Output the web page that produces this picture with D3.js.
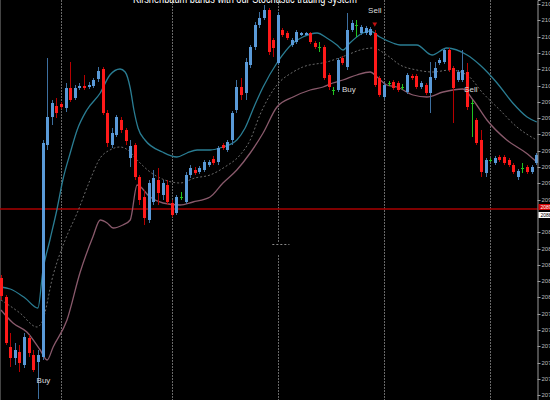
<html>
<!-- Kirshenbaum bands, H1 candles, MT4 style dark chart -->
<script src="https://d3js.org/d3.v7.min.js"></script>

<style>
  body {margin: 0; background: #000;}
  svg {display: block; background: #000;}
</style>

<body>
<svg width=550 height=400></svg>

<script>
// ---- bar data (oldest first), one value per bar ----
const opens = [
  2082.2, 2080.3, 2075.3, 2074.2, 2074.8, 2073.5, 2076.2, 2074.5, 2073.8, 2074.3,
  2095.5, 2098.3, 2099.4, 2099.6, 2099.2, 2101.2, 2100.2, 2101.2, 2101.4, 2101.3,
  2101.4, 2102.1, 2103.1, 2098.7, 2095.5, 2096.5, 2098.0, 2097.0, 2094.2, 2095.5,
  2092.3, 2090.3, 2088.0, 2089.8, 2092.0, 2090.5, 2091.5, 2089.7, 2088.7, 2090.3,
  2089.8, 2092.5, 2093.0, 2092.8, 2093.0, 2093.5, 2094.1, 2093.8, 2095.5, 2095.0,
  2096.0, 2099.0, 2101.3, 2100.7, 2103.5, 2105.3, 2107.5, 2108.2, 2109.0, 2106.0,
  2103.7, 2107.0, 2106.7, 2105.5, 2105.8, 2106.5, 2106.5, 2106.7, 2105.7, 2105.3,
  2105.3, 2102.5, 2101.0, 2101.0, 2104.2, 2103.3, 2107.0, 2107.5, 2106.7, 2106.7,
  2106.5, 2106.7, 2102.2, 2100.3, 2101.7, 2101.8, 2101.7, 2101.3, 2100.8, 2102.4,
  2102.4, 2101.3, 2101.5, 2100.7, 2102.2, 2103.7, 2103.8, 2105.0, 2103.2, 2102.0,
  2102.0, 2102.8, 2099.7, 2098.0, 2096.0, 2092.7, 2094.0, 2093.7, 2094.3, 2094.3,
  2094.0, 2093.5, 2092.3, 2093.2, 2093.3, 2092.8, 2093.7
];
const highs = [
  2082.5, 2080.5, 2076.7, 2075.7, 2075.5, 2076.7, 2076.5, 2075.0, 2075.0, 2096.0,
  2104.2, 2100.0, 2100.2, 2099.8, 2101.7, 2103.8, 2101.5, 2101.7, 2102.5, 2101.8,
  2102.2, 2103.3, 2103.3, 2099.0, 2097.2, 2098.5, 2098.3, 2097.2, 2096.0, 2095.7,
  2092.5, 2091.0, 2092.0, 2093.0, 2093.2, 2092.0, 2092.0, 2090.0, 2090.5, 2090.8,
  2092.8, 2093.5, 2093.3, 2093.4, 2094.0, 2094.0, 2094.4, 2095.4, 2095.7, 2096.0,
  2098.9, 2102.0, 2102.2, 2104.2, 2105.5, 2107.8, 2108.8, 2109.5, 2109.2, 2106.2,
  2108.8, 2107.2, 2106.9, 2106.2, 2107.0, 2106.8, 2106.8, 2106.8, 2105.9, 2105.8,
  2105.5, 2102.7, 2101.3, 2104.2, 2104.4, 2108.7, 2108.0, 2108.0, 2107.5, 2107.4,
  2107.3, 2107.0, 2102.4, 2101.7, 2101.9, 2102.0, 2101.9, 2101.6, 2102.7, 2102.6,
  2102.6, 2101.9, 2101.7, 2103.8, 2103.8, 2104.2, 2105.2, 2105.2, 2103.4, 2103.0,
  2105.0, 2103.7, 2100.0, 2098.2, 2097.0, 2094.2, 2094.2, 2094.4, 2094.5, 2094.5,
  2094.2, 2093.7, 2093.1, 2093.7, 2093.5, 2093.5, 2094.7
];
const lows = [
  2080.0, 2075.5, 2073.3, 2073.5, 2072.8, 2073.2, 2074.3, 2072.8, 2070.1, 2074.0,
  2095.0, 2097.5, 2098.2, 2099.1, 2098.8, 2099.8, 2100.0, 2101.0, 2101.0, 2101.1,
  2101.2, 2101.8, 2098.5, 2095.3, 2095.2, 2096.3, 2096.7, 2095.5, 2093.3, 2092.0,
  2089.5, 2087.5, 2087.7, 2089.5, 2089.5, 2090.0, 2089.5, 2088.3, 2088.5, 2090.0,
  2089.6, 2092.2, 2092.5, 2092.6, 2092.8, 2093.3, 2093.5, 2093.5, 2095.0, 2094.8,
  2095.5, 2098.7, 2100.0, 2100.0, 2103.2, 2105.0, 2107.2, 2108.0, 2104.5, 2104.3,
  2103.5, 2106.3, 2106.0, 2105.3, 2105.6, 2106.4, 2106.4, 2105.6, 2105.1, 2104.8,
  2102.0, 2101.0, 2100.5, 2100.8, 2103.5, 2103.0, 2106.8, 2106.3, 2106.5, 2106.5,
  2106.4, 2101.3, 2100.3, 2100.1, 2101.4, 2101.0, 2100.8, 2101.0, 2100.6, 2102.0,
  2101.1, 2101.1, 2100.5, 2098.7, 2102.0, 2103.5, 2103.6, 2102.8, 2097.7, 2101.8,
  2101.8, 2099.0, 2096.3, 2095.5, 2092.3, 2092.3, 2093.8, 2093.5, 2093.8, 2093.5,
  2093.3, 2092.6, 2092.0, 2092.7, 2092.6, 2092.6, 2093.5
];
const closes = [
  2080.4, 2075.7, 2074.2, 2075.0, 2073.7, 2076.3, 2074.7, 2073.0, 2074.5, 2095.7,
  2098.3, 2099.7, 2098.7, 2099.3, 2101.2, 2100.0, 2101.2, 2101.4, 2101.2, 2101.5,
  2102.0, 2102.9, 2098.7, 2095.7, 2096.7, 2098.3, 2097.0, 2095.9, 2095.4, 2092.3,
  2090.0, 2088.2, 2091.7, 2092.2, 2090.7, 2091.7, 2089.8, 2088.5, 2090.3, 2090.3,
  2092.5, 2093.2, 2092.7, 2093.2, 2093.8, 2093.8, 2093.7, 2095.2, 2095.2, 2095.8,
  2098.7, 2101.3, 2100.5, 2103.8, 2105.3, 2107.5, 2108.2, 2109.0, 2104.8, 2105.2,
  2108.5, 2106.5, 2106.2, 2106.0, 2106.8, 2106.7, 2106.7, 2105.8, 2105.3, 2105.3,
  2102.2, 2101.3, 2101.0, 2104.0, 2103.7, 2107.0, 2107.7, 2107.5, 2107.3, 2107.2,
  2107.1, 2101.5, 2100.5, 2101.5, 2101.7, 2101.2, 2101.0, 2101.3, 2102.5, 2102.2,
  2101.3, 2101.7, 2100.7, 2102.3, 2103.2, 2104.0, 2105.0, 2103.0, 2101.2, 2102.8,
  2103.0, 2099.3, 2099.7, 2095.7, 2092.8, 2094.0, 2094.0, 2094.2, 2094.0, 2093.7,
  2093.5, 2092.8, 2092.9, 2093.2, 2092.8, 2093.3, 2094.5
];

// ---- Kirshenbaum bands, read as [bar, price] ----
const upperBand = [
  [0, 2081.3], [2, 2081.1], [5.2, 2080.2], [8, 2079.2], [9.1, 2083.0], [10.6, 2086.0],
  [12.1, 2089.0], [13.4, 2092.0], [15, 2094.7], [16.5, 2097.0], [18.6, 2099.0],
  [21.5, 2100.7], [23.6, 2102.5], [25.8, 2103.1], [26.9, 2102.8], [28, 2101.2],
  [28.8, 2099.0], [29.7, 2097.2], [31.2, 2096.0], [35, 2094.8], [38.1, 2094.3],
  [40.3, 2094.7], [42.5, 2095.0], [45.3, 2095.0], [48.1, 2095.3], [51.1, 2096.0],
  [52.9, 2097.2], [55, 2099.5], [56.8, 2101.3], [59.8, 2103.7], [63.3, 2105.7],
  [65.4, 2106.3], [68.5, 2106.7], [70.6, 2106.2], [72.8, 2105.5], [74.1, 2105.0],
  [75.6, 2105.7], [78.4, 2106.7], [80, 2106.9], [82.1, 2106.3], [84.9, 2105.7],
  [86.5, 2105.5], [90.1, 2105.5], [93.4, 2104.5], [96.6, 2105.2], [101, 2104.5],
  [103.8, 2103.5], [107.5, 2101.7], [110.9, 2099.7], [114, 2098.3], [116.1, 2097.8]
];
const midBand = [
  [0, 2080.0], [4.1, 2078.7], [7.8, 2077.3], [8.9, 2077.8], [11.3, 2082.5], [13.9, 2086.0],
  [16.5, 2088.7], [19.3, 2092.0], [21.5, 2094.2], [23.6, 2095.0], [25.8, 2095.3],
  [27.5, 2095.0], [29.5, 2094.0], [32.3, 2092.8], [35.5, 2092.0], [38.8, 2091.7],
  [42, 2092.2], [45.3, 2092.5], [48.5, 2093.3], [51.8, 2094.5], [54, 2096.0],
  [56.1, 2098.5], [59.8, 2101.5], [63.3, 2102.8], [65.4, 2103.3], [70.6, 2103.8],
  [75, 2104.5], [77.8, 2105.0], [80.6, 2105.2], [83.6, 2104.5], [86.5, 2103.5],
  [90.1, 2103.0], [93.6, 2102.8], [97.3, 2103.0], [101, 2102.5], [104.4, 2100.7],
  [108.1, 2099.0], [111.8, 2097.3], [116.1, 2096.0]
];
const lowerBand = [
  [0, 2079.0], [2.6, 2077.7], [5.6, 2076.8], [8.5, 2075.0], [10, 2074.0], [11.3, 2075.3],
  [14.3, 2078.0], [17.1, 2082.7], [19.9, 2086.3], [21.5, 2088.0], [23, 2087.7],
  [24.3, 2087.2], [26.4, 2087.5], [28, 2088.0], [29.5, 2091.5], [32.3, 2090.3],
  [35.1, 2089.7], [38.8, 2089.5], [41.6, 2089.8], [45.3, 2090.3], [48.1, 2091.7],
  [51.1, 2093.0], [54, 2094.7], [56.8, 2096.7], [59.8, 2099.3], [63.3, 2100.3],
  [67, 2101.0], [69.8, 2101.3], [71.9, 2101.7], [74.1, 2102.0], [77.1, 2102.5],
  [80, 2102.8], [81.5, 2102.3], [83.6, 2101.5], [85.8, 2101.3], [89.3, 2100.5],
  [92.3, 2100.3], [95.8, 2100.8], [100.1, 2101.1], [102.3, 2100.0], [105.3, 2098.0],
  [109.6, 2096.0], [113.8, 2094.7], [116.1, 2093.8]
];

// ---- price axis, day separators, signals ----
// (the label under the bid tag is hidden in the original, so it is left out)
const priceTicks = [2109.6, 2108.0, 2106.3, 2104.7, 2103.1, 2101.4, 2099.8, 2098.2, 2096.6,
  2094.9, 2093.3, 2091.7, 2090.0, 2086.8, 2085.1, 2083.5, 2081.9, 2080.3, 2078.6,
  2077.0, 2075.4, 2073.7, 2072.1, 2070.5];
const separatorBars = [13, 37, 60, 83, 106];
const hLinePrice = 2089.1;
const bidPrice = 2088.6;
const signalBars = [9.2, 81, 75.4, 101.8];
const signalPrices = [2072.0, 2109.0, 2101.1, 2101.1];
const signalText = ['Buy', 'Sell', 'Buy', 'Sell'];
const sellArrowBar = 81, sellArrowPrice = 2107.6;
// small crosshair mark sitting on the third separator
const markBars = [58.8, 62.5], markPrice = 2085.6;

const title = 'Kirshenbaum bands with our Stochastic trading system';

// ---- scales ----
const xs = d3.scaleLinear().domain([0, 116]).range([1, 536.3]);
const ys = d3.scaleLinear().domain([2070, 2110]).range([400, 0]);
const axisX = 537.5;

const svg = d3.select('svg');

// window border on the left
svg.append('line')
  .attr('x1', 0.5).attr('x2', 0.5).attr('y1', 0).attr('y2', 400)
  .attr('stroke', '#444');

// day separators
svg.append('g').selectAll('line')
  .data(separatorBars)
  .enter().append('line')
    .attr('x1', d => Math.round(xs(d)) + 0.5)
    .attr('x2', d => Math.round(xs(d)) + 0.5)
    .attr('y1', 0).attr('y2', 400)
    .attr('stroke', '#686868')
    .attr('stroke-dasharray', '2,1');

// crosshair mark
svg.append('rect')
  .attr('x', xs(markBars[0])).attr('width', xs(markBars[1]) - xs(markBars[0]))
  .attr('y', ys(markPrice) - 1).attr('height', 11)
  .attr('fill', '#000');
svg.append('line')
  .attr('x1', xs(markBars[0])).attr('x2', xs(markBars[1]))
  .attr('y1', ys(markPrice) + 0.5).attr('y2', ys(markPrice) + 0.5)
  .attr('stroke', '#8a8a8a').attr('stroke-dasharray', '2,2');

// horizontal line
svg.append('line')
  .attr('x1', 0).attr('x2', axisX)
  .attr('y1', ys(hLinePrice)).attr('y2', ys(hLinePrice))
  .attr('stroke', '#a80000').attr('stroke-width', 1.3);

// bands
const bandLine = d3.line()
  .x(d => xs(d[0]))
  .y(d => ys(d[1]))
  .curve(d3.curveMonotoneX);

svg.append('path').datum(lowerBand)
  .attr('d', bandLine).attr('fill', 'none')
  .attr('stroke', '#8a5a6c').attr('stroke-width', 1.3);
svg.append('path').datum(midBand)
  .attr('d', bandLine).attr('fill', 'none')
  .attr('stroke', '#6a6a6a').attr('stroke-width', 1)
  .attr('stroke-dasharray', '2,2');
svg.append('path').datum(upperBand)
  .attr('d', bandLine).attr('fill', 'none')
  .attr('stroke', '#2a7d93').attr('stroke-width', 1.3);

// candles
const bars = d3.range(opens.length).map(i => (
  {i: i, o: opens[i], h: highs[i], l: lows[i], c: closes[i]}));

const candleColor = function(d) {
  if (d.c > d.o) {return '#5a9ad8';}
  else if (d.c < d.o) {return '#ff1a1a';}
  else {return '#1fc41f';}
};
const wickColor = function(d) {
  if (d.c > d.o) {return '#3d6f9f';}
  else if (d.c < d.o) {return '#b80000';}
  else {return '#1fc41f';}
};

const cg = svg.append('g');
cg.selectAll('line.wick')
  .data(bars)
  .enter().append('line')
    .attr('class', 'wick')
    .attr('x1', d => Math.round(xs(d.i)) + 0.5)
    .attr('x2', d => Math.round(xs(d.i)) + 0.5)
    .attr('y1', d => ys(d.h))
    .attr('y2', d => ys(d.l))
    .attr('stroke', wickColor);

cg.selectAll('rect.body')
  .data(bars)
  .enter().append('rect')
    .attr('class', 'body')
    .attr('x', d => Math.round(xs(d.i)) - 1)
    .attr('width', 3)
    .attr('y', d => ys(Math.max(d.o, d.c)))
    .attr('height', d => Math.max(1, Math.abs(ys(d.o) - ys(d.c))))
    .attr('fill', candleColor);

// sell arrow above the sell bar
svg.append('path')
  .attr('d', d3.symbol().type(d3.symbolTriangle).size(10))
  .attr('transform', 'translate(' + xs(sellArrowBar) + ',' + ys(sellArrowPrice) + ') rotate(180)')
  .attr('fill', '#c01010');

// buy / sell labels
svg.append('g').selectAll('text')
  .data(signalText)
  .enter().append('text')
    .attr('x', (d, i) => xs(signalBars[i]))
    .attr('y', (d, i) => ys(signalPrices[i]) + 3)
    .attr('text-anchor', 'middle')
    .attr('font-family', 'Liberation Sans, sans-serif')
    .attr('font-size', '8px')
    .attr('fill', '#dddddd')
    .text(d => d);

// price axis on the right
const yAxis = d3.axisRight(ys)
  .tickValues(priceTicks)
  .tickSize(3)
  .tickFormat(d3.format('.1f'));

const ax = svg.append('g')
  .attr('transform', 'translate(' + axisX + ',0)')
  .call(yAxis);
ax.select('.domain').attr('stroke', '#9a9a9a');
ax.selectAll('.tick line').attr('stroke', '#9a9a9a');
ax.selectAll('.tick text')
  .attr('x', 4)
  .attr('fill', '#bdbdbd')
  .attr('font-family', 'Liberation Sans, sans-serif')
  .attr('font-size', '6px');

// price tags for the line and the bid
const tags = [[hLinePrice, '#d00000', '#ffffff'], [bidPrice, '#ffffff', '#000000']];
const tg = svg.append('g').selectAll('g')
  .data(tags)
  .enter().append('g');
tg.append('rect')
  .attr('x', axisX + 1)
  .attr('y', (d, i) => ys(d[0]) - 5 + i * 3)
  .attr('width', 14).attr('height', 6)
  .attr('fill', d => d[1]);
tg.append('text')
  .attr('x', axisX + 3)
  .attr('y', (d, i) => ys(d[0]) + i * 3)
  .attr('font-family', 'Liberation Sans, sans-serif')
  .attr('font-size', '5px')
  .attr('fill', d => d[2])
  .text(d => d3.format('.1f')(d[0]));

// title, cut off at the top like the original screenshot
svg.append('text')
  .attr('x', 245)
  .attr('y', 3)
  .attr('text-anchor', 'middle')
  .attr('font-family', 'Liberation Sans, sans-serif')
  .attr('font-size', '12px')
  .attr('fill', '#ffffff')
  .attr('textLength', 224)
  .attr('lengthAdjust', 'spacingAndGlyphs')
  .text(title);
</script>
</body>
</html>
